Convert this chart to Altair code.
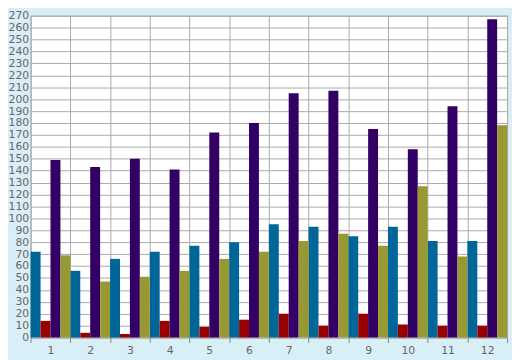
import altair as alt
import pandas as pd

months = [str(i) for i in range(1, 13)]
series = ["Series 1", "Series 2", "Series 3", "Series 4"]
colors = ["#006699", "#990000", "#330066", "#999933"]

s1 = [72, 56, 66, 72, 77, 80, 95, 93, 85, 93, 81, 81]
s2 = [14, 4, 3, 14, 9, 15, 20, 10, 20, 11, 10, 10]
s3 = [149, 143, 150, 141, 172, 180, 205, 207, 175, 158, 194, 267]
s4 = [69, 47, 51, 56, 66, 72, 81, 87, 77, 127, 68, 178]

rows = []
for name, vals in zip(series, [s1, s2, s3, s4]):
    for m, v in zip(months, vals):
        rows.append({"month": m, "series": name, "value": v})
df = pd.DataFrame(rows)

chart = alt.Chart(df).mark_bar().encode(
    x=alt.X("month:O", sort=months, title=None,
            scale=alt.Scale(paddingInner=0, paddingOuter=0),
            axis=alt.Axis(labelAngle=0, grid=True, tickBand="extent",
                          domain=False, ticks=True, tickSize=5,
                          tickColor="#888888", labelPadding=2,
                          labelColor="#666666", labelFontSize=11,
                          labelFont="DejaVu Sans", gridColor="#aaaaaa")),
    xOffset=alt.XOffset("series:N", sort=series,
                        scale=alt.Scale(paddingInner=0, paddingOuter=0)),
    y=alt.Y("value:Q", title=None,
            scale=alt.Scale(domain=[0, 270], nice=False),
            axis=alt.Axis(values=list(range(0, 271, 10)), grid=True,
                          gridColor="#aaaaaa", domain=False, ticks=False,
                          labelPadding=2, labelColor="#666666",
                          labelFontSize=11, labelFont="DejaVu Sans")),
    color=alt.Color("series:N", sort=series, legend=None,
                    scale=alt.Scale(domain=series, range=colors)),
).properties(
    width=484, height=327,
    autosize=alt.AutoSizeParams(type="none"),
    padding={"left": 23, "top": 5, "right": 5, "bottom": 22},
    background="#d9eff7",
).configure_view(
    fill="white", stroke="#aaaaaa", strokeWidth=1
).configure_axis(gridWidth=1)

chart.save("out.html", embed_options={"renderer": "svg", "actions": False})
